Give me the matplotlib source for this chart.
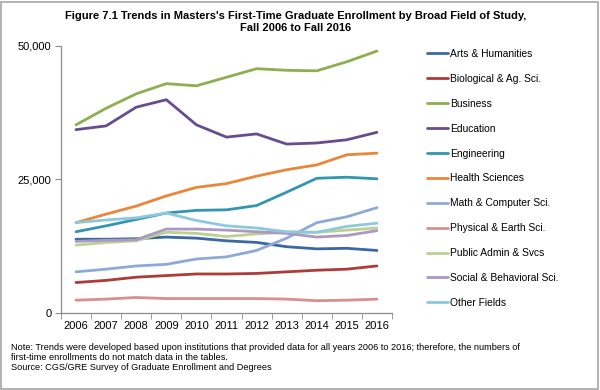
import matplotlib
matplotlib.use("Agg")
import matplotlib.pyplot as plt
from matplotlib.patches import Rectangle
from matplotlib.ticker import FuncFormatter, FixedLocator

plt.rcParams['font.family'] = ['Liberation Sans', 'DejaVu Sans']

years = [2006, 2007, 2008, 2009, 2010, 2011, 2012, 2013, 2014, 2015, 2016]

arts = [13800, 13800, 13900, 14200, 14000, 13500, 13200, 12400, 12000, 12100, 11700]
bio = [5700, 6100, 6700, 7000, 7300, 7300, 7400, 7700, 8000, 8200, 8800]
business = [35200, 38300, 41000, 42900, 42500, 44100, 45700, 45400, 45300, 47000, 49000]
education = [34300, 35000, 38500, 39900, 35200, 32900, 33500, 31600, 31800, 32400, 33800]
engineering = [15200, 16300, 17500, 18700, 19200, 19300, 20100, 22600, 25200, 25400, 25100]
health = [16900, 18500, 20000, 21900, 23500, 24200, 25600, 26800, 27700, 29600, 29900]
math_cs = [7700, 8200, 8800, 9100, 10100, 10500, 11700, 14000, 16900, 18000, 19700]
physical = [2400, 2600, 2900, 2700, 2700, 2700, 2700, 2600, 2300, 2400, 2600]
public_admin = [12700, 13200, 13500, 15100, 14900, 14300, 14800, 15100, 15100, 15500, 15900]
social = [13400, 13600, 13700, 15700, 15700, 15500, 15200, 14900, 14200, 14500, 15400]
other = [16900, 17400, 17800, 18700, 17300, 16300, 15900, 15200, 15100, 16200, 16800]

series_names = ["Arts & Humanities", "Biological & Ag. Sci.", "Business", "Education",
                "Engineering", "Health Sciences", "Math & Computer Sci.",
                "Physical & Earth Sci.", "Public Admin & Svcs", "Social & Behavioral Sci.",
                "Other Fields"]
series_values = [arts, bio, business, education, engineering, health, math_cs,
                 physical, public_admin, social, other]
colors = ["#3B67A4", "#AE3B38", "#8DAF4F", "#674D90", "#3396B0", "#E9863A",
          "#8FA9D6", "#D98F8D", "#BBD18F", "#AB98C4", "#8DC8DB"]

fig = plt.figure(figsize=(6, 3.9), dpi=100)
ax = fig.add_axes([61/600, 1-313/390, (392-61)/600, (313-45.7)/390])

for name, vals, c in zip(series_names, series_values, colors):
    ax.plot(years, vals, color=c, lw=2.0, label=name, solid_capstyle='round')

ax.set_xlim(2005.5, 2016.5)
ax.set_ylim(0, 50000)
ax.set_yticks([0, 25000, 50000])
ax.yaxis.set_major_formatter(FuncFormatter(lambda v, p: f"{int(v):,}"))
ax.set_xticks(years)
ax.set_xticklabels([str(y) for y in years])
ax.xaxis.set_minor_locator(FixedLocator([y + 0.5 for y in [2005] + years]))

for s in ['top', 'right']:
    ax.spines[s].set_visible(False)
for s in ['left', 'bottom']:
    ax.spines[s].set_color('#8C8C8C')
    ax.spines[s].set_linewidth(0.9)

ax.tick_params(axis='y', which='major', length=4, color='#8C8C8C', labelsize=8, pad=3)
ax.tick_params(axis='x', which='major', length=0, labelsize=8, pad=6)
ax.tick_params(axis='x', which='minor', length=4, color='#8C8C8C')

fig.text(296/600, 1-15.7/390, "Figure 7.1 Trends in Masters's First-Time Graduate Enrollment by Broad Field of Study,",
         ha='center', va='center', fontsize=8.0, fontweight='bold')
fig.text(296/600, 1-27.7/390, "Fall 2006 to Fall 2016",
         ha='center', va='center', fontsize=8.0, fontweight='bold')

leg = fig.legend(loc='upper left', bbox_to_anchor=(423/600, 1-44.8/390), frameon=False,
                 fontsize=7.4, handlelength=2.0, handletextpad=0.2,
                 labelspacing=1.45, borderaxespad=0)

fig.text(11/600, 1-348/390,
         "Note: Trends were developed based upon institutions that provided data for all years 2006 to 2016; therefore, the numbers of",
         ha='left', va='center', fontsize=6.6)
fig.text(11/600, 1-358/390, "first-time enrollments do not match data in the tables.",
         ha='left', va='center', fontsize=6.6)
fig.text(11/600, 1-368/390, "Source: CGS/GRE Survey of Graduate Enrollment and Degrees",
         ha='left', va='center', fontsize=6.6)

fig.patches.append(Rectangle((1/600, 1/390), 597/600, 387/390, transform=fig.transFigure,
                             fill=False, edgecolor='#A6A6A6', lw=1.2))

fig.savefig("out.png", dpi=100)
